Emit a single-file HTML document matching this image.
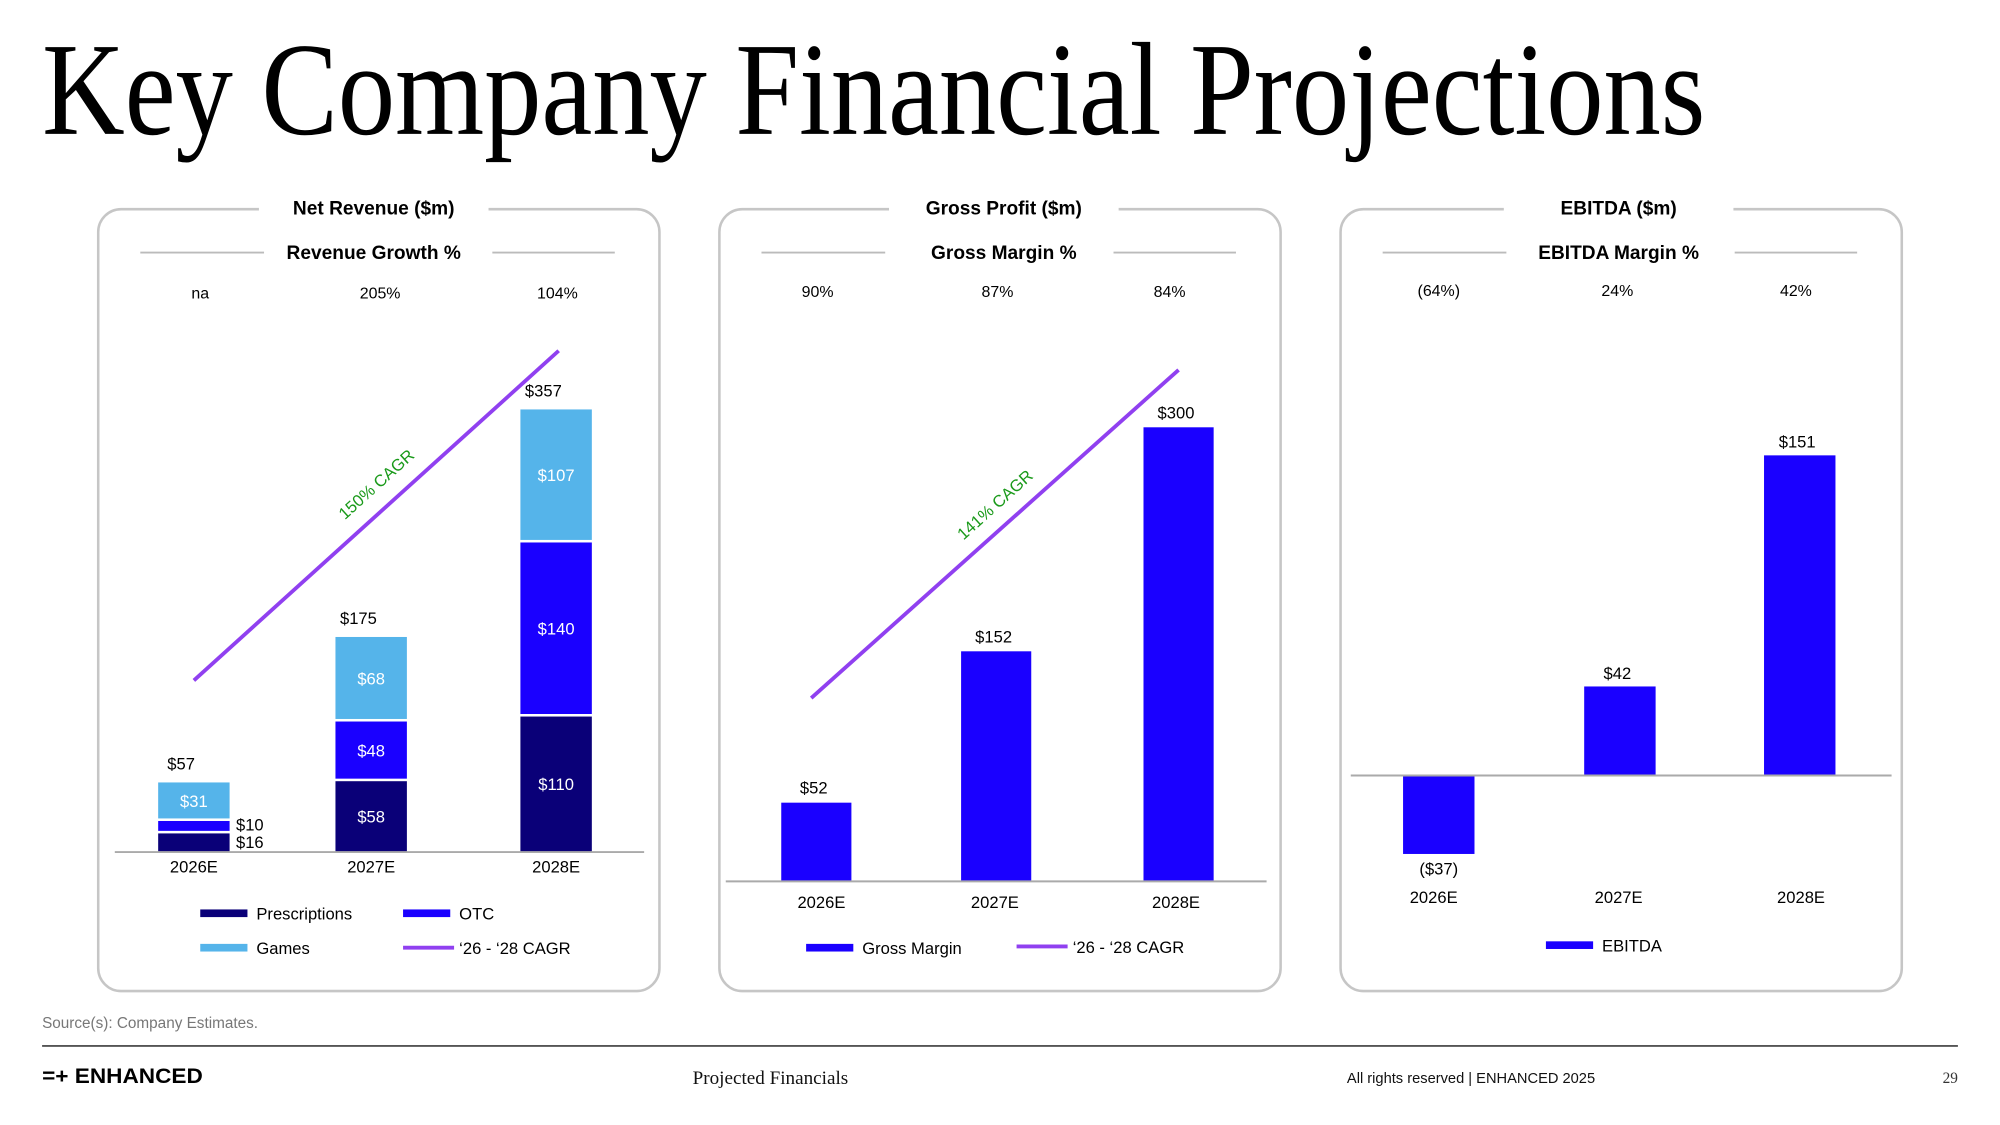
<!DOCTYPE html>
<html><head><meta charset="utf-8">
<style>
html,body{margin:0;padding:0;background:#fff;}
svg{display:block;}
text{font-family:"Liberation Sans",sans-serif;}
.serif{font-family:"Liberation Serif",serif;}
</style></head>
<body>
<svg id="s" width="2000" height="1125" viewBox="0 0 1568 882" preserveAspectRatio="none" xmlns="http://www.w3.org/2000/svg">
<text class="serif" x="33" y="105" font-size="104" textLength="1304" lengthAdjust="spacingAndGlyphs" fill="#000">Key Company Financial Projections</text>
<g id="charts"></g>
<text x="33" y="806" font-size="12" fill="#777">Source(s): Company Estimates.</text>
<line x1="33" y1="820" x2="1535" y2="820" stroke="#555" stroke-width="1.5"/>
<text x="33" y="849" font-size="17" font-weight="bold" fill="#000" textLength="126" lengthAdjust="spacingAndGlyphs">=+ ENHANCED</text>
<text class="serif" x="604" y="850" font-size="15" text-anchor="middle" fill="#111">Projected Financials</text>
<text x="1056" y="849" font-size="11.5" fill="#111">All rights reserved | ENHANCED 2025</text>
<text class="serif" x="1535" y="849" font-size="12" text-anchor="end" fill="#333">29</text>
</svg>
<script>
const years = ["2026E","2027E","2028E"];
const rxValues = [16,58,110];
const otcValues = [10,48,140];
const gamesValues = [31,68,107];
const revTotals = [57,175,357];
const revGrowth = ["na","205%","104%"];
const gpValues = [52,152,300];
const gpMargin = ["90%","87%","84%"];
const ebitdaValues = [-37,42,151];
const ebitdaMargin = ["(64%)","24%","42%"];

const NS="http://www.w3.org/2000/svg";
const root=document.getElementById('charts');
const DARK="#0a0078",BLUE="#1a00ff",LIGHT="#55b4ea",PURPLE="#9040f0",GREEN="#1a9a1a";
function el(tag,attrs,parent,txt){const e=document.createElementNS(NS,tag);for(const k in attrs)e.setAttribute(k,attrs[k]);if(txt!==undefined)e.textContent=txt;(parent||root).appendChild(e);return e;}
function fmt(v){return v<0?"($"+(-v)+")":"$"+v;}

function panel(x0,cx,title,sub,pct,pctY,name){
  const g=el('g',{});
  
  
  const r=el('rect',{x:x0,y:164,width:440,height:613,rx:18,fill:"none",stroke:"#c6c6c6","stroke-width":2},g);
  
  
  el('rect',{x:cx-90,y:150,width:180,height:20,fill:"#fff"},g);
  const t=el('text',{x:cx,y:168,"font-size":15,"font-weight":"bold","text-anchor":"middle",fill:"#000"},g,title);
  
  
  el('line',{x1:x0+33,y1:198,x2:x0+130,y2:198,stroke:"#bbb","stroke-width":1.5},g);
  el('line',{x1:x0+309,y1:198,x2:x0+405,y2:198,stroke:"#bbb","stroke-width":1.5},g);
  const st=el('text',{x:cx,y:203,"font-size":15,"font-weight":"bold","text-anchor":"middle",fill:"#000"},g,sub);
  
  
  return g;
}
function xlabels(g,xs,y,name){
  years.forEach((yr,i)=>{const t=el('text',{x:xs[i],y:y,"font-size":13,"text-anchor":"middle",fill:"#000"},g,yr);
    
    });
}
function pctRow(g,xs,arr,y,name){
  arr.forEach((p,i)=>{const t=el('text',{x:xs[i],y:y,"font-size":12.5,"text-anchor":"middle",fill:"#000"},g,p);
    
    });
}
function bar(g,cx,w,y1,y2,color,name){
  const r=el('rect',{x:cx-w/2,y:Math.min(y1,y2),width:w,height:Math.abs(y2-y1),fill:color},g);
  
  
  return r;
}
function lbl(g,x,y,txt,color,name,anchor){
  const t=el('text',{x:x,y:y,"font-size":13,"text-anchor":anchor||"middle",fill:color},g,txt);
  
  
}
function legend(g,x,y,type,color,txt,name){
  if(type==='bar') el('rect',{x:x,y:y-3,width:37,height:6,fill:color},g);
  else el('line',{x1:x,y1:y,x2:x+40,y2:y,stroke:color,"stroke-width":3},g);
  const t=el('text',{x:x+44,y:y+5,"font-size":13,fill:"#000"},g,txt);
  
  
}

/* Panel 1: Net revenue */
(function(){
  const g=panel(77,293,"Net Revenue ($m)","Revenue Growth %",revGrowth,229,"net-revenue");
  const xs=[152,291,436],base=668,k=348/357,w=56;
  const ys=v=>base-v*k;
  pctRow(g,[157,298,437],revGrowth,234,"revenue-growth");
  years.forEach((yr,i)=>{
    let b=base;
    const segs=[[rxValues[i],DARK,'prescriptions'],[otcValues[i],BLUE,'otc'],[gamesValues[i],LIGHT,'games']];
    segs.forEach(([v,c,n],j)=>{
      const top=b-v*k;
      bar(g,xs[i],w,b-(j>0?1:0),top+1,c,'bar-'+n+'-'+yr);
      if(i===0&&j<2){
        lbl(g,xs[i]+33,j===0?665:651,fmt(v),"#000",'label-'+n+'-'+yr,"start");
      } else {
        lbl(g,xs[i],(b+top)/2+5,fmt(v),"#fff",'label-'+n+'-'+yr);
      }
      b=top;
    });
    lbl(g,xs[i]-10,b-9,fmt(revTotals[i]),"#000",'label-total-'+yr);
  });
  el('line',{x1:90,y1:base,x2:505,y2:base,stroke:"#aaa","stroke-width":1.5},g);
  xlabels(g,xs,684,"net-revenue");
  const cl=el('line',{x1:xs[0],y1:ys(revTotals[0])-79,x2:xs[2]+2,y2:ys(revTotals[2])-45,stroke:PURPLE,"stroke-width":3},g);
  
  
  const ct=el('text',{x:298,y:383,"font-size":13,fill:GREEN,"text-anchor":"middle",transform:"rotate(-42 298 383)"},g,"150% CAGR");
  
  
  legend(g,157,716,'bar',DARK,"Prescriptions",'legend-prescriptions');
  legend(g,316,716,'bar',BLUE,"OTC",'legend-otc');
  legend(g,157,743,'bar',LIGHT,"Games",'legend-games');
  legend(g,316,743,'line',PURPLE,"‘26 - ‘28 CAGR",'legend-revenue-cagr');
})();

/* Panel 2: Gross profit */
(function(){
  const g=panel(564,787,"Gross Profit ($m)","Gross Margin %",gpMargin,229,"gross-profit");
  const xs=[640,781,924],base=691,k=356/300,w=55;
  pctRow(g,[641,782,917],gpMargin,233,"gross-margin");
  gpValues.forEach((v,i)=>{
    const top=base-v*k;
    bar(g,xs[i],w,base,top,BLUE,'bar-gross-profit-'+years[i]);
    lbl(g,xs[i]-2,top-7,fmt(v),"#000",'label-gross-profit-'+years[i]);
  });
  el('line',{x1:569,y1:base,x2:993,y2:base,stroke:"#aaa","stroke-width":1.5},g);
  xlabels(g,[644,780,922],712,"gross-profit");
  const cl=el('line',{x1:636,y1:base-gpValues[0]*k-82,x2:924,y2:base-gpValues[2]*k-45,stroke:PURPLE,"stroke-width":3},g);
  
  
  const ct=el('text',{x:783,y:399,"font-size":13,fill:GREEN,"text-anchor":"middle",transform:"rotate(-42 783 399)"},g,"141% CAGR");
  
  
  legend(g,632,743,'bar',BLUE,"Gross Margin",'legend-gross-margin');
  legend(g,797,742,'line',PURPLE,"‘26 - ‘28 CAGR",'legend-gross-profit-cagr');
})();

/* Panel 3: EBITDA */
(function(){
  const g=panel(1051,1269,"EBITDA ($m)","EBITDA Margin %",ebitdaMargin,227,"ebitda");
  const xs=[1128,1270,1411],base=608,k=251/151,w=56;
  pctRow(g,[1128,1268,1408],ebitdaMargin,232,"ebitda-margin");
  ebitdaValues.forEach((v,i)=>{
    const top=base-v*k;
    bar(g,xs[i],w,base,top,BLUE,'bar-ebitda-'+years[i]);
    if(v<0) lbl(g,xs[i],top+16,fmt(v),"#000",'label-ebitda-'+years[i]);
    else lbl(g,xs[i]-2,top-6,fmt(v),"#000",'label-ebitda-'+years[i]);
  });
  el('line',{x1:1059,y1:base,x2:1483,y2:base,stroke:"#aaa","stroke-width":1.5},g);
  xlabels(g,[1124,1269,1412],708,"ebitda");
  legend(g,1212,741,'bar',BLUE,"EBITDA",'legend-ebitda');
})();
</script>
</body></html>
